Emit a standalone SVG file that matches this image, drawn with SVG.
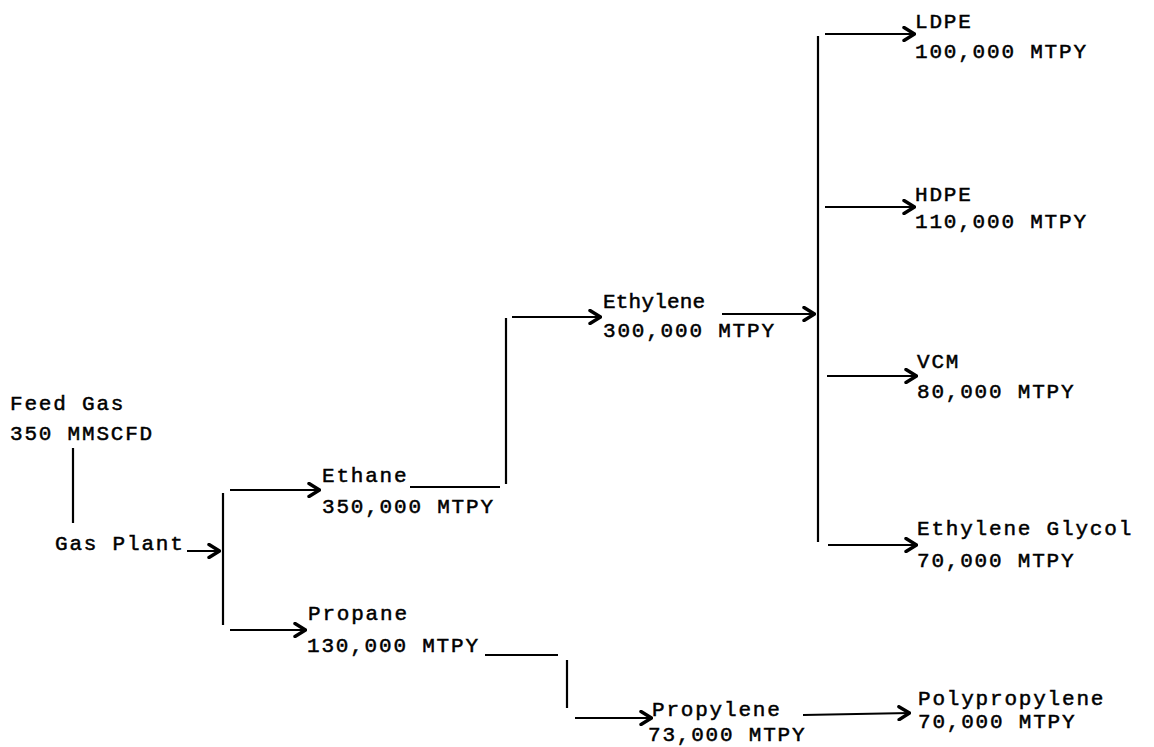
<svg xmlns="http://www.w3.org/2000/svg" width="1154" height="747" viewBox="0 0 1154 747">
<style>
.t{font-family:"Liberation Mono","Courier New",monospace;font-size:21px;letter-spacing:1.8px;fill:#000;stroke:#000;stroke-width:0.5px}
.c{stroke:#000;stroke-width:2.2;fill:none}
.a{marker-end:url(#ah)}
</style>
<defs>
<marker id="ah" markerUnits="userSpaceOnUse" viewBox="0 0 14 16" refX="13" refY="8" markerWidth="14" markerHeight="16" orient="auto">
<path d="M2,1.5 L12.5,8 L2,14.5" fill="none" stroke="#000" stroke-width="3.4" stroke-linecap="round" stroke-linejoin="round"/>
</marker>
</defs>
<rect width="1154" height="747" fill="#fff"/>
<g id="connectors">
<line class="c" x1="73" y1="448" x2="73" y2="523"/>
<line class="c a" x1="187" y1="551" x2="220" y2="551"/>
<line class="c" x1="223" y1="493" x2="223" y2="625"/>
<line class="c a" x1="230" y1="490" x2="320" y2="490"/>
<line class="c a" x1="230" y1="630" x2="306" y2="630"/>
<line class="c" x1="410" y1="487" x2="500" y2="487"/>
<line class="c" x1="506" y1="318" x2="506" y2="484"/>
<line class="c a" x1="512" y1="317" x2="601" y2="317"/>
<line class="c a" x1="722" y1="314" x2="815" y2="314"/>
<line class="c" x1="818" y1="36" x2="818" y2="542"/>
<line class="c a" x1="825" y1="34" x2="915" y2="34"/>
<line class="c a" x1="825" y1="207" x2="915" y2="207"/>
<line class="c a" x1="827" y1="376" x2="917" y2="376"/>
<line class="c a" x1="828" y1="545" x2="917" y2="545"/>
<line class="c" x1="485" y1="655" x2="558" y2="655"/>
<line class="c" x1="567" y1="660" x2="567" y2="708"/>
<line class="c a" x1="575" y1="718" x2="652" y2="718"/>
<line class="c a" x1="803" y1="715" x2="910" y2="713"/>
</g>
<g id="feed-gas"><text class="t" x="10" y="410">Feed Gas</text><text class="t" x="10" y="440">350 MMSCFD</text></g>
<g id="gas-plant"><text class="t" x="55" y="550">Gas Plant</text></g>
<g id="ethane"><text class="t" x="322" y="482">Ethane</text><text class="t" x="322" y="513">350,000 MTPY</text></g>
<g id="propane"><text class="t" x="308" y="620">Propane</text><text class="t" x="307" y="652">130,000 MTPY</text></g>
<g id="ethylene"><text class="t" x="603" y="308" textLength="104">Ethylene</text><text class="t" x="603" y="337">300,000 MTPY</text></g>
<g id="ldpe"><text class="t" x="915" y="28">LDPE</text><text class="t" x="915" y="58">100,000 MTPY</text></g>
<g id="hdpe"><text class="t" x="915" y="201">HDPE</text><text class="t" x="915" y="228">110,000 MTPY</text></g>
<g id="vcm"><text class="t" x="917" y="368">VCM</text><text class="t" x="917" y="398">80,000 MTPY</text></g>
<g id="ethylene-glycol"><text class="t" x="917" y="535">Ethylene Glycol</text><text class="t" x="917" y="567">70,000 MTPY</text></g>
<g id="propylene"><text class="t" x="652" y="716">Propylene</text><text class="t" x="648" y="741">73,000 MTPY</text></g>
<g id="polypropylene"><text class="t" x="918" y="705">Polypropylene</text><text class="t" x="918" y="728">70,000 MTPY</text></g>
</svg>
